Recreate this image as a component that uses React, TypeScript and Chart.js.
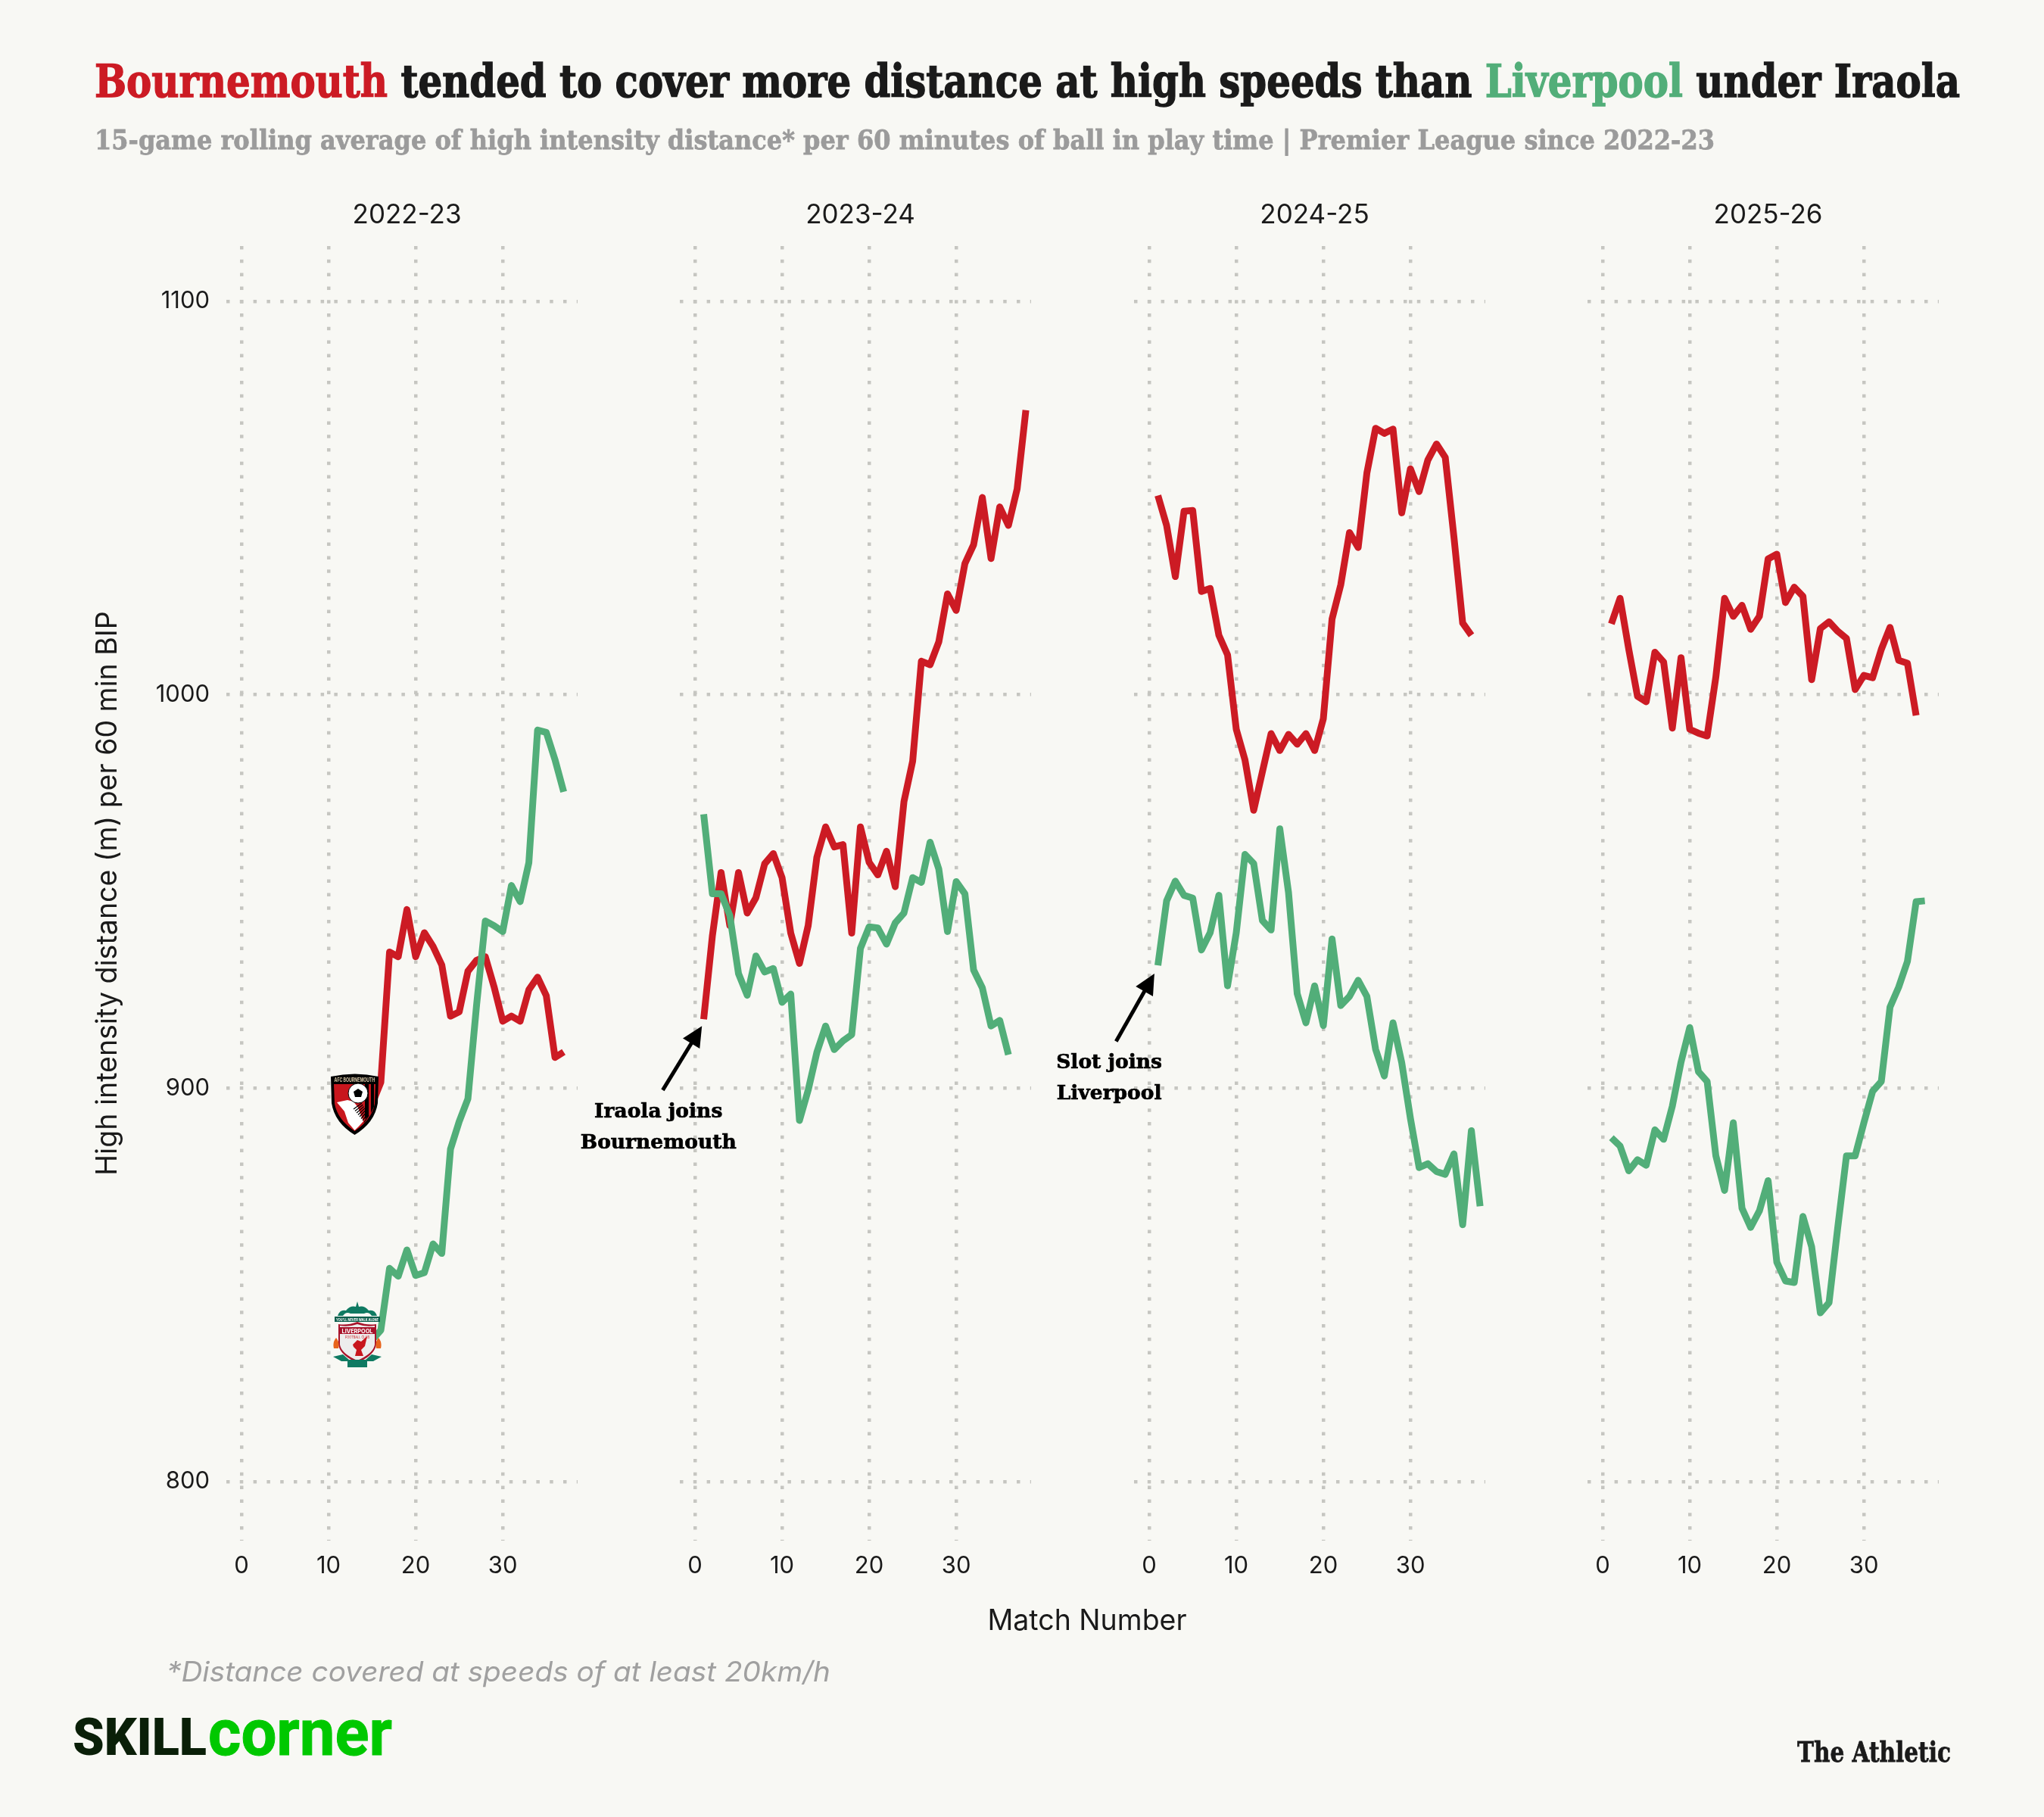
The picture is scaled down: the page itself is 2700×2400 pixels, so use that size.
import React, { useEffect, useRef } from "react";
import { Chart, registerables } from "chart.js";

Chart.register(...registerables);

const seasons = ["2022-23", "2023-24", "2024-25", "2025-26"];
const xTicks = [0, 10, 20, 30];
const yTicks = [800, 900, 1000, 1100];

// 2022-23 only starts at match 15 because of the 15-game window
const firstMatch = [15, 1, 1, 1];

const bournemouth2223 = [896, 901.5, 934.6, 933.4, 945.4, 933.4, 939.5, 936, 931.3, 918.3, 919.4, 929.7, 932.5, 933.4, 925.8, 917, 918.3, 917, 925, 928.2, 923.5, 907.8, 909.2];
const liverpool2223 = [836, 838.5, 854.2, 852.2, 858.9, 852.4, 853.1, 860.4, 858, 884.5, 891.5, 897.3, 921.2, 942.5, 941.3, 939.8, 951.5, 947.4, 957.3, 991, 990.4, 983.5, 975.3];

const bournemouth2324 = [917.5, 938.7, 954.8, 941.3, 954.8, 944.5, 948.4, 957, 959.6, 953.5, 939.4, 931.7, 941.3, 958.7, 966.4, 961.3, 961.9, 939.4, 966.4, 957.4, 954.2, 960.2, 951.2, 972.8, 983.1, 1008.5, 1007.6, 1013.4, 1025.6, 1021.4, 1033.3, 1038.1, 1050.1, 1034.6, 1047.7, 1043, 1052.3, 1072.3];
const liverpool2324 = [969.6, 949.4, 949.4, 943.9, 929.1, 923.6, 933.6, 929.5, 930.4, 921.8, 923.9, 891.8, 899.5, 909.1, 915.8, 909.8, 912, 913.6, 935.5, 941, 940.7, 936.6, 942, 944.5, 953.5, 952.3, 962.5, 955.7, 939.8, 952.5, 949.4, 930, 925.5, 915.8, 917.2, 908.5];

const bournemouth2425 = [1050.6, 1043, 1030, 1046.6, 1046.8, 1026.2, 1027, 1015.1, 1010.1, 991.2, 983.4, 970.6, 980.4, 990.1, 985.8, 989.9, 987.4, 990.1, 985.8, 993.9, 1019.2, 1027.9, 1041.2, 1037.4, 1056.3, 1067.7, 1066.4, 1067.5, 1046.2, 1057.4, 1051.6, 1059.6, 1063.7, 1060.3, 1040, 1018.2, 1015.1];
const liverpool2425 = [931.2, 947.6, 952.6, 949, 948.3, 935.1, 939.5, 949, 926, 939.5, 959.4, 957.1, 942.6, 940.2, 965.9, 949.7, 924, 916.6, 926, 915.9, 937.9, 921, 923.3, 927.4, 923.3, 909.9, 903.1, 916.6, 906.5, 892.3, 879.8, 880.8, 878.8, 878.1, 883.3, 865.3, 889.2, 870];

const bournemouth2526 = [1018, 1024.5, 1011.5, 999.6, 998.2, 1010.8, 1008.3, 991.5, 1009.4, 991.2, 990.2, 989.5, 1004.5, 1024.5, 1019.9, 1022.7, 1016.6, 1019.9, 1034.5, 1035.7, 1023.4, 1027.3, 1025, 1003.8, 1016.8, 1018.5, 1016.1, 1014.3, 1001.3, 1004.9, 1004.3, 1011.5, 1017.1, 1008.7, 1008, 994.7];
const liverpool2526 = [887.4, 885.3, 879, 881.8, 880.4, 889.4, 887, 895.4, 906.6, 915.4, 904.2, 901.7, 882.8, 874, 891.2, 869.5, 864.6, 868.8, 876.5, 855.8, 851, 850.6, 867.4, 859.7, 842.9, 845.5, 864.6, 882.8, 882.8, 891.2, 899.2, 901.7, 920.6, 925.7, 932.2, 947.4, 947.6];

const bournemouthSeries = [bournemouth2223, bournemouth2324, bournemouth2425, bournemouth2526];
const liverpoolSeries = [liverpool2223, liverpool2324, liverpool2425, liverpool2526];

const iraolaNote = { lines: ["Iraola joins", "Bournemouth"], textAt: [-4.2, 893.9], from: [-3.7, 899.5], to: [0.8, 915.8] };
const slotNote = { lines: ["Slot joins", "Liverpool"], textAt: [-4.6, 906.3], from: [-3.8, 911.9], to: [0.6, 929.1] };
const notes = [null, iraolaNote, slotNote, null];

const RED = "#cc1b24";
const GREEN = "#52ae79";
const GRID = "#c6c6c1";
const INK = "#1a1a1a";
const SANS = "Inter, sans-serif";
const SLAB = "'DejaVu Serif', serif";

const toPoints = (values, start) => values.map((y, i) => ({ x: start + i, y }));

// season label, arrow and two line label, placed in data units
const notePlugin = {
    id: "note",
    afterDatasetsDraw(chart, _args, opts) {
        const { ctx, scales, chartArea } = chart;
        ctx.save();
        ctx.fillStyle = INK;
        ctx.font = `35px ${SANS}`;
        ctx.textAlign = "center";
        ctx.textBaseline = "middle";
        ctx.fillText(opts.season, scales.x.getPixelForValue(19), chartArea.top - 41);
        ctx.restore();

        const note = opts.note;
        if (!note) return;
        const px = (p) => [scales.x.getPixelForValue(p[0]), scales.y.getPixelForValue(p[1])];
        const [x0, y0] = px(note.from);
        const [x1, y1] = px(note.to);
        const angle = Math.atan2(y1 - y0, x1 - x0);
        const head = 30;
        ctx.save();
        ctx.strokeStyle = "#000";
        ctx.fillStyle = "#000";
        ctx.lineWidth = 5;
        ctx.beginPath();
        ctx.moveTo(x0, y0);
        ctx.lineTo(x1 - Math.cos(angle) * 20, y1 - Math.sin(angle) * 20);
        ctx.stroke();
        ctx.beginPath();
        ctx.moveTo(x1, y1);
        ctx.lineTo(x1 - head * Math.cos(angle - 0.45), y1 - head * Math.sin(angle - 0.45));
        ctx.lineTo(x1 - head * Math.cos(angle + 0.45), y1 - head * Math.sin(angle + 0.45));
        ctx.closePath();
        ctx.fill();
        const [tx, ty] = px(note.textAt);
        ctx.font = `bold 26.5px ${SLAB}`;
        ctx.textAlign = "center";
        ctx.textBaseline = "middle";
        ctx.lineWidth = 0.7;
        note.lines.forEach((line, i) => {
            ctx.fillText(line, tx, ty + i * 41);
            ctx.strokeText(line, tx, ty + i * 41);
        });
        ctx.restore();
    },
};

const Panel = ({ index }) => {
    const canvasRef = useRef<HTMLCanvasElement>(null);

    useEffect(() => {
        const first = index === 0;
        const chart = new Chart(canvasRef.current, {
            type: "line",
            data: {
                datasets: [
                    { label: "Liverpool", data: toPoints(liverpoolSeries[index], firstMatch[index]), borderColor: GREEN },
                    { label: "Bournemouth", data: toPoints(bournemouthSeries[index], firstMatch[index]), borderColor: RED },
                ],
            },
            plugins: [notePlugin],
            options: {
                animation: false,
                responsive: false,
                devicePixelRatio: 1,
                layout: { padding: { top: 85 } },
                elements: {
                    point: { radius: 0 },
                    line: { borderWidth: 9, tension: 0, borderJoinStyle: "round", borderCapStyle: "butt" },
                },
                plugins: {
                    legend: { display: false },
                    tooltip: { enabled: false },
                    title: { display: false },
                    note: { note: notes[index], season: seasons[index] },
                },
                scales: {
                    x: {
                        type: "linear",
                        min: -1.74,
                        max: 38.6,
                        afterBuildTicks: (s) => { s.ticks = xTicks.map((value) => ({ value })); },
                        afterFit: (s) => { s.height = 85; },
                        border: { display: false, dash: [4.5, 13.3] },
                        grid: { color: GRID, lineWidth: 4.5, drawTicks: false },
                        ticks: {
                            color: INK,
                            font: { family: SANS, size: 31 },
                            padding: 15,
                            autoSkip: false,
                            maxRotation: 0,
                            callback: (v) => String(v),
                        },
                    },
                    y: {
                        min: 785,
                        max: 1114,
                        afterBuildTicks: (s) => { s.ticks = yTicks.map((value) => ({ value })); },
                        afterFit: (s) => { s.width = 179; },
                        border: { display: false, dash: [4.5, 13.3] },
                        grid: { color: GRID, lineWidth: 4.5, drawTicks: false },
                        title: {
                            display: first,
                            text: "High intensity distance (m) per 60 min BIP",
                            color: INK,
                            font: { family: SANS, size: 37.5 },
                            padding: 0,
                        },
                        ticks: {
                            display: first,
                            color: INK,
                            font: { family: SANS, size: 31 },
                            padding: 22,
                            autoSkip: false,
                            callback: (v) => String(v),
                        },
                    },
                },
            },
        } as any);
        return () => chart.destroy();
    }, [index]);

    return (
        <canvas
            ref={canvasRef}
            width={643}
            height={1880}
            style={{ position: "absolute", left: 120 + 599.3 * index, top: 240, width: 643, height: 1880 }}
        />
    );
};

const hatchLines = [0, 1, 2, 3, 4, 5, 6, 7, 8];

const BournemouthCrest = () => (
    <g transform="translate(437 1417)">
        <path d="M0 5 Q32 -2 63 5 L62 40 Q58 66 31.5 82 Q5 66 1 40Z" fill="#000" />
        <path d="M4 15 L59 15 L58 41 Q54 62 31.5 77 Q9 62 5 41Z" fill="#c8161d" />
        <path d="M45 15h5v42l-5 4zM53 15h4v30l-4 8z" fill="#000" />
        <path d="M8 39 L22 36 L30 38 L36 46 L43 64 Q37 71 31.5 76 L23 66 L18 51Z" fill="#fff" />
        {hatchLines.map((i) => (
            <line key={i} x1={30 + i * 2} y1={48 + i * 2.5} x2={41 + i * 1.3} y2={40 + i * 2.3} stroke="#000" strokeWidth="1.2" />
        ))}
        <circle cx="36" cy="27" r="13" fill="#fff" stroke="#000" strokeWidth="1" />
        <path d="M36 21 L42 25 L40 32 L32 32 L30 25Z" fill="#000" />
        <text x="31.5" y="11.5" textAnchor="middle" fontFamily={SANS} fontSize="7" fontWeight="700" fill="#d8c8a8" textLength="54" lengthAdjust="spacingAndGlyphs">AFC BOURNEMOUTH</text>
    </g>
);

const LiverpoolCrest = () => (
    <g transform="translate(439 1718)">
        <path d="M7 20 Q10 11 18 13 Q24 6 31 8 L33 1 L35 8 Q42 6 48 13 Q56 11 59 20 L52 20 Q48 14 42 17 L24 17 Q18 14 14 20Z" fill="#0f7a62" />
        <rect x="3" y="21" width="60" height="7" fill="#0b5e4c" />
        <text x="33" y="26.5" textAnchor="middle" fontFamily={SANS} fontSize="5" fontWeight="700" fill="#fff" textLength="56" lengthAdjust="spacingAndGlyphs">YOU'LL NEVER WALK ALONE</text>
        <path d="M8 31 Q20 33 33 28 Q46 33 58 31 L58 58 Q56 72 33 82 Q10 72 8 58Z" fill="#a8132a" />
        <path d="M10 33 Q22 35 33 31 Q44 35 56 33 L56 58 Q54 70 33 79 Q12 70 10 58Z" fill="#ededed" />
        <rect x="10" y="35" width="46" height="9" fill="#a8132a" />
        <text x="33" y="42.5" textAnchor="middle" fontFamily={SANS} fontSize="8" fontWeight="700" fill="#fff" textLength="41" lengthAdjust="spacingAndGlyphs">LIVERPOOL</text>
        <text x="33" y="49.5" textAnchor="middle" fontFamily={SANS} fontSize="4.5" fill="#c8161d" textLength="32" lengthAdjust="spacingAndGlyphs">FOOTBALL CLUB</text>
        <path d="M27 58 L33 52 L38 54 L46 47 L43 60 L38 65 L41 73 L30 73 L32 65 L28 61Z" fill="#c8161d" />
        <path d="M2 63 Q0 55 5 49 Q10 55 8 63Z M58 63 Q56 55 61 49 Q66 55 64 63Z" fill="#e8641c" />
        <path d="M1 74 L14 71 L22 78 L44 78 L52 71 L65 74 L54 80 L46 80 L46 88 L20 88 L20 80 L12 80Z" fill="#0f7a62" />
    </g>
);

const Overlay = () => (
    <svg width={2700} height={2400} style={{ position: "absolute", left: 0, top: 0, pointerEvents: "none" }}>
        <text x={125} y={128} fontFamily={SLAB} fontWeight="700" fontSize={60} fill={INK} stroke={INK} strokeWidth={1.4} textLength={2464} lengthAdjust="spacingAndGlyphs">
            <tspan fill={RED} stroke={RED}>Bournemouth</tspan> tended to cover more distance at high speeds than <tspan fill={GREEN} stroke={GREEN}>Liverpool</tspan> under Iraola
        </text>
        <text x={125} y={197} fontFamily={SLAB} fontWeight="700" fontSize={36} fill="#9b9b9b" stroke="#9b9b9b" strokeWidth={0.8} textLength={2140} lengthAdjust="spacingAndGlyphs">
            15-game rolling average of high intensity distance* per 60 minutes of ball in play time | Premier League since 2022-23
        </text>
        <text x={1436} y={2153} textAnchor="middle" fontFamily={SANS} fontSize={37.5} fill={INK}>Match Number</text>
        <text x={220} y={2221} fontFamily={SANS} fontStyle="italic" fontSize={37} fill="#a0a0a0" textLength={877} lengthAdjust="spacingAndGlyphs">*Distance covered at speeds of at least 20km/h</text>
        <text x={96} y={2318} fontFamily="Roboto, sans-serif" fontWeight="900" fontSize={69} fill="#0a1f08" textLength={177} lengthAdjust="spacingAndGlyphs">SKILL</text>
        <text x={275} y={2318} fontFamily="Roboto, sans-serif" fontWeight="700" fontSize={85} fill="#00c800" stroke="#00c800" strokeWidth={1} textLength={243} lengthAdjust="spacingAndGlyphs">corner</text>
        <text x={2374} y={2327} fontFamily={SLAB} fontWeight="700" fontSize={37} fill={INK} stroke={INK} strokeWidth={0.8} textLength={203} lengthAdjust="spacingAndGlyphs">The Athletic</text>
        <BournemouthCrest />
        <LiverpoolCrest />
    </svg>
);

export default function App() {
    return (
        <div style={{ position: "relative", width: 2700, height: 2400, overflow: "hidden", background: "#f8f8f4" }}>
            <style>{"body{margin:0;background:#f8f8f4}"}</style>
            {seasons.map((_, i) => <Panel key={i} index={i} />)}
            <Overlay />
        </div>
    );
}
